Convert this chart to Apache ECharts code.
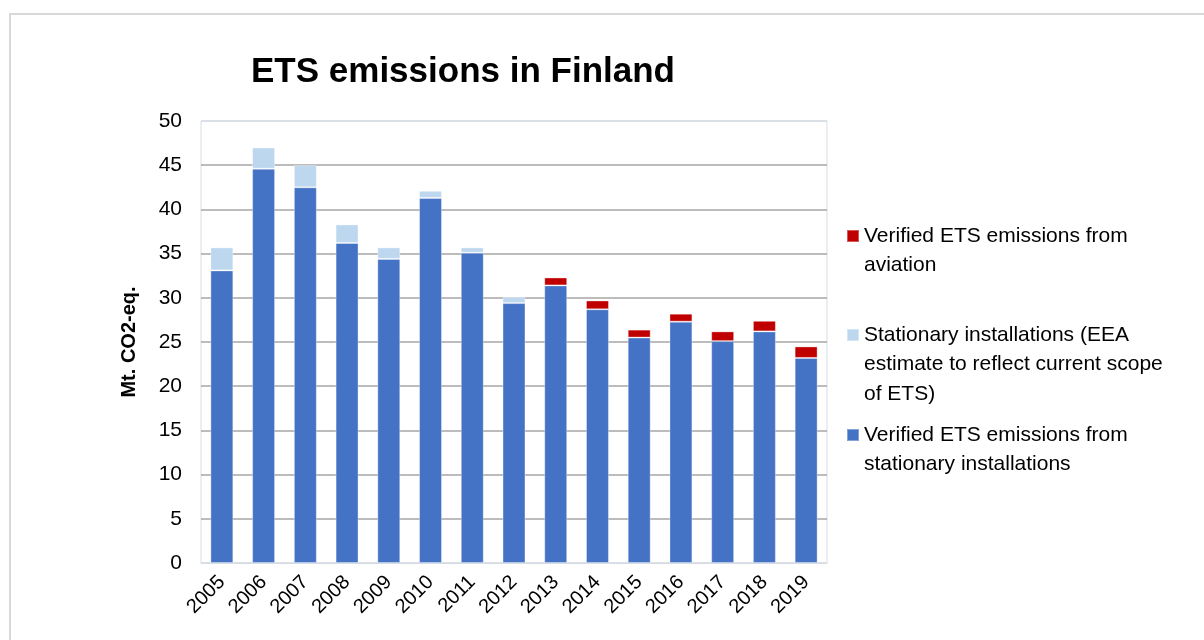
<!DOCTYPE html>
<html>
<head>
<meta charset="utf-8">
<title>ETS emissions in Finland</title>
<script src="https://cdn.jsdelivr.net/npm/echarts@6/dist/echarts.min.js"></script>
<style>
  html, body { margin: 0; padding: 0; background: #fff; }
  #chart { width: 1204px; height: 640px; }
</style>
</head>
<body>
<div id="chart"></div>
<script>
// data (Mt CO2-eq.)
var years = ["2005", "2006", "2007", "2008", "2009", "2010", "2011", "2012",
  "2013", "2014", "2015", "2016", "2017", "2018", "2019"];
var stationary = [33.1, 44.6, 42.5, 36.2, 34.4, 41.3, 35.1, 29.4,
  31.4, 28.7, 25.5, 27.3, 25.1, 26.2, 23.2];
var eeaEstimate = [2.6, 2.4, 2.5, 2.1, 1.3, 0.8, 0.6, 0.7,
  null, null, null, null, null, null, null];
var aviation = [null, null, null, null, null, null, null, null,
  0.9, 1.0, 0.9, 0.9, 1.1, 1.2, 1.3];
var yTicks = [0, 5, 10, 15, 20, 25, 30, 35, 40, 45, 50];

var nameAviation = "Verified ETS emissions from aviation";
var nameEstimate = "Stationary installations (EEA estimate to reflect current scope of ETS)";
var nameStationary = "Verified ETS emissions from stationary installations";

var FONT = "Liberation Sans";
var LH = 29.5;

var chart = echarts.init(document.getElementById("chart"));

// one legend per item; the icon box is as tall as the text block,
// with the square drawn next to the first line
function legendItem(name, text, lines, firstLineY) {
  var h = lines * LH;
  var sq = LH / 2 - 6;
  var icon = "path://M0," + sq + "H12V" + (sq + 12) + "H0Z" +
    "M0,0H0.01V0.01H0Z" +
    "M0," + h + "H0.01V" + (h - 0.01) + "H0Z";
  return {
    orient: "vertical",
    left: 846,
    top: firstLineY - LH / 2,
    padding: 0,
    icon: icon,
    itemWidth: 12,
    itemHeight: h,
    data: [name],
    formatter: function () { return text; },
    textStyle: {
      fontFamily: FONT,
      fontSize: 21,
      lineHeight: LH,
      color: "#000"
    }
  };
}

var gridColors = yTicks.map(function (v, i) {
  return (i === 0 || i === yTicks.length - 1) ? "#d6dce5" : "#a6a6a6";
});

chart.setOption({
  animation: false,
  textStyle: { fontFamily: FONT },
  title: {
    text: "ETS emissions in Finland",
    left: 251,
    top: 55,
    padding: 0,
    textStyle: { fontFamily: FONT, fontSize: 35, fontWeight: "bold", color: "#000" }
  },
  graphic: [{
    type: "rect",
    shape: { x: 10, y: 14, width: 1220, height: 660 },
    style: { fill: null, stroke: "#d9d9d9", lineWidth: 2 },
    silent: true
  }],
  legend: [
    legendItem(nameAviation, "Verified ETS emissions from\naviation", 2, 235),
    legendItem(nameEstimate, "Stationary installations (EEA\nestimate to reflect current scope\nof ETS)", 3, 334),
    legendItem(nameStationary, "Verified ETS emissions from\nstationary installations", 2, 434)
  ],
  grid: {
    left: 201,
    right: 377,
    top: 121,
    bottom: 77,
    show: true,
    borderColor: "#d6dce5",
    borderWidth: 1
  },
  xAxis: {
    type: "category",
    data: years,
    axisLine: { lineStyle: { color: "#d6dce5" } },
    axisTick: { show: false },
    axisLabel: {
      rotate: 45,
      margin: 16,
      fontFamily: FONT,
      fontSize: 20,
      color: "#000"
    }
  },
  yAxis: {
    type: "value",
    min: 0,
    max: 50,
    interval: 5,
    name: "Mt. CO2-eq.",
    nameLocation: "middle",
    nameRotate: 90,
    nameGap: 62,
    nameTextStyle: { fontFamily: FONT, fontSize: 20, fontWeight: "bold", color: "#000" },
    axisLine: { show: false },
    axisTick: { show: false },
    axisLabel: { margin: 19, fontFamily: FONT, fontSize: 21, color: "#000" },
    splitLine: { lineStyle: { color: gridColors, width: 1.5 } }
  },
  series: [
    {
      name: nameStationary,
      type: "bar",
      stack: "ets",
      barWidth: "55%",
      data: stationary,
      itemStyle: { color: "#4472c4", borderColor: "rgba(255,255,255,0.35)", borderWidth: 1 }
    },
    {
      name: nameEstimate,
      type: "bar",
      stack: "ets",
      data: eeaEstimate,
      itemStyle: { color: "#bdd7ee", borderColor: "rgba(255,255,255,0.35)", borderWidth: 1 }
    },
    {
      name: nameAviation,
      type: "bar",
      stack: "ets",
      data: aviation,
      itemStyle: { color: "#c00000", borderColor: "rgba(255,255,255,0.35)", borderWidth: 1 }
    }
  ]
});
</script>
</body>
</html>
